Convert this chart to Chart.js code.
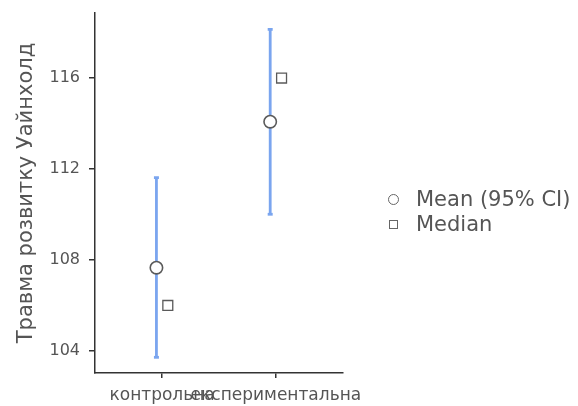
<!DOCTYPE html>
<html>
<head>
<meta charset="utf-8">
<script src="https://cdn.jsdelivr.net/npm/chart.js@4/dist/chart.umd.min.js"></script>
<style>
  html, body { margin: 0; padding: 0; background: #fff; }
  #wrap { position: relative; width: 578px; height: 406px; }
  canvas { position: absolute; left: 0; top: 0; }
  .leg { position: absolute; font-family: "DejaVu Sans", sans-serif; font-size: 21px; color: #555; line-height: 24px; white-space: nowrap; }
  .sym { position: absolute; box-sizing: border-box; border: 1.5px solid #666; background: #fff; }
</style>
</head>
<body>
<div id="wrap">
  <canvas id="c" width="578" height="406"></canvas>
  <div class="sym" style="left:388px; top:194px; width:11px; height:11px; border-radius:50%;"></div>
  <div class="leg" id="l1" style="left:416px; top:187px;"></div>
  <div class="sym" style="left:389px; top:220px; width:9px; height:9px;"></div>
  <div class="leg" id="l2" style="left:416px; top:212px;"></div>
</div>
<script>
const categories = ["контрольна", "експериментальна"];
const meanValues = [107.66, 114.08];
const ciLower = [103.72, 110.01];
const ciUpper = [111.62, 118.14];
const medianValues = [106, 116];
const yTicks = [104, 108, 112, 116];
const legendLabels = ["Mean (95% CI)", "Median"];
const yTitle = "Травма розвитку Уайнхолд";

document.getElementById('l1').textContent = legendLabels[0];
document.getElementById('l2').textContent = legendLabels[1];

const dodge = 0.05;
const blue = '#7aa5ef';
const grey = '#5a5a5a';

const meanData = meanValues.map((v, i) => ({x: i + 1 - dodge, y: v}));
const medianData = medianValues.map((v, i) => ({x: i + 1 + dodge, y: v}));

const datasets = [
  { type: 'scatter', label: legendLabels[0], data: meanData, pointStyle: 'circle', pointRadius: 6.2,
    pointBackgroundColor: '#fff', pointBorderColor: grey, pointBorderWidth: 1.6, showLine: false },
  { type: 'scatter', label: legendLabels[1], data: medianData, pointStyle: 'rect', pointRadius: 7,
    pointBackgroundColor: '#fff', pointBorderColor: grey, pointBorderWidth: 1.3, showLine: false },
];
categories.forEach((c, i) => {
  datasets.push({
    type: 'line', label: 'ci-' + c,
    data: [{x: i + 1 - dodge, y: ciLower[i]}, {x: i + 1 - dodge, y: ciUpper[i]}],
    borderColor: blue, borderWidth: 2.8, pointStyle: 'line', pointRadius: 2.5,
    pointBorderColor: blue, pointBorderWidth: 2.8, pointBackgroundColor: blue, fill: false, tension: 0
  });
});

new Chart(document.getElementById('c'), {
  data: { datasets },
  options: {
    responsive: false,
    animation: false,
    events: [],
    layout: { padding: { left: 10, top: 13, right: 235, bottom: 0 } },
    plugins: { legend: { display: false }, tooltip: { enabled: false } },
    scales: {
      x: {
        type: 'linear', min: 0.41, max: 2.59,
        afterBuildTicks: (s) => { s.ticks = categories.map((c, i) => ({ value: i + 1 })); },
        afterFit: (s) => { s.height = 33; s.paddingLeft = 0; s.paddingRight = 0; },
        ticks: {
          callback: (v) => categories[Math.round(v) - 1] ?? '',
          autoSkip: false, maxRotation: 0, minRotation: 0,
          color: '#555', padding: 7,
          font: { family: 'DejaVu Sans', size: 17 }
        },
        grid: { drawOnChartArea: false, drawTicks: true, tickLength: 5, color: '#333', lineWidth: 1.5 },
        border: { display: true, color: '#333', width: 1.5 }
      },
      y: {
        type: 'linear', min: 103.03, max: 118.86,
        afterBuildTicks: (s) => { s.ticks = yTicks.map(v => ({ value: v })); },
        afterFit: (s) => { s.width = 85; s.paddingTop = 0; s.paddingBottom = 0; },
        ticks: { color: '#555', padding: 9, font: { family: 'DejaVu Sans', size: 16 } },
        grid: { drawOnChartArea: false, drawTicks: true, tickLength: 6, color: '#333', lineWidth: 1.5 },
        border: { display: true, color: '#333', width: 1.5 },
        title: { display: true, text: yTitle, color: '#555', padding: { top: 4, bottom: 0 },
                 font: { family: 'DejaVu Sans', size: 21 } }
      }
    }
  }
});
</script>
</body>
</html>
